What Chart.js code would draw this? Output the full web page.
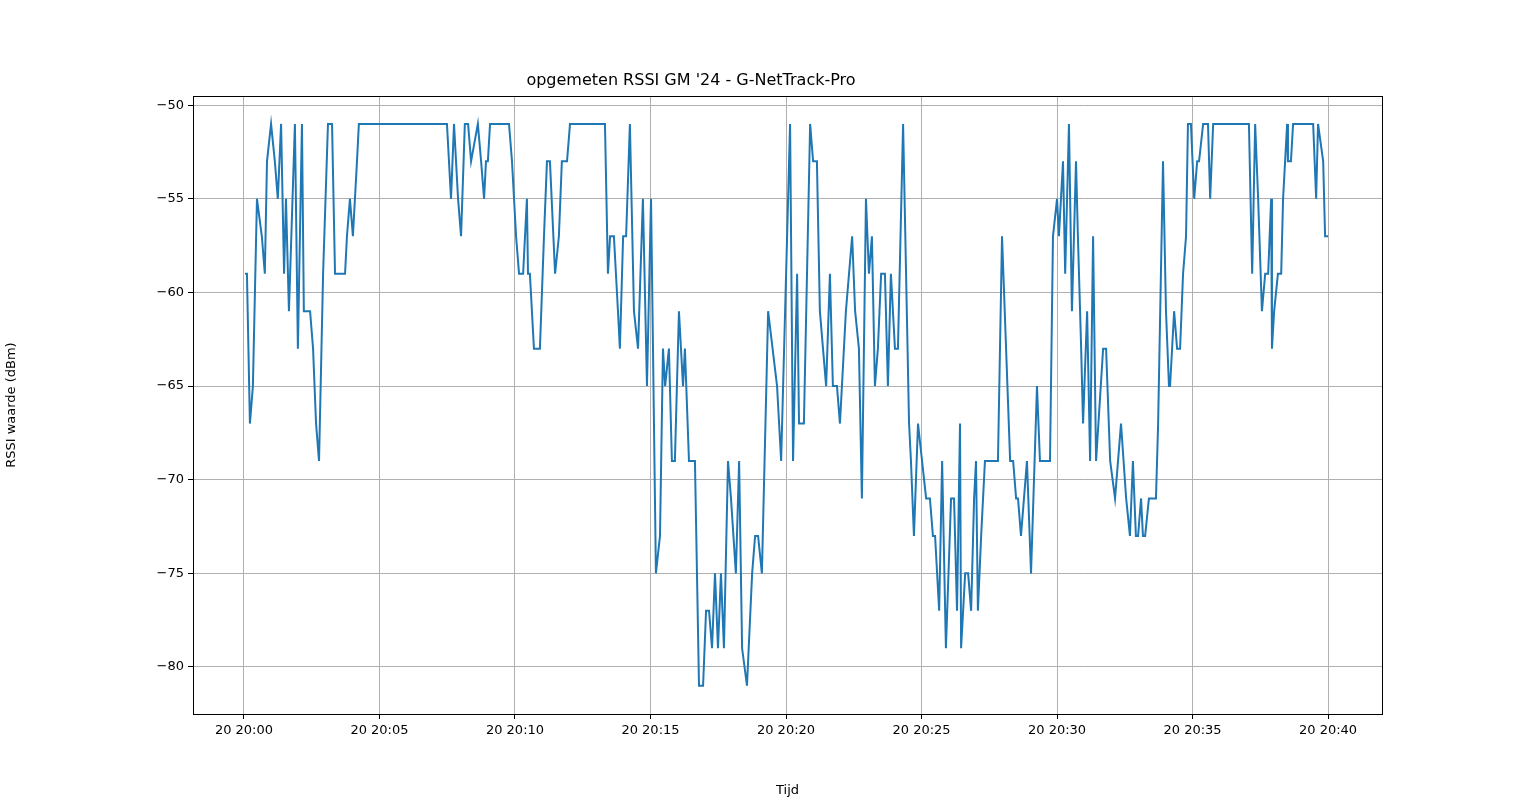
<!DOCTYPE html>
<html>
<head>
<meta charset="utf-8">
<script src="https://cdn.jsdelivr.net/npm/chart.js@4"></script>
<style>
  html, body { margin: 0; padding: 0; background: #fff; }
  #wrap { width: 1536px; height: 802px; }
</style>
</head>
<body>
<div id="wrap"><canvas id="rssiChart" width="1536" height="802"></canvas></div>
<script>
// minuten na 11:20
const minutes = [
  0.04,0.11,0.22,0.33,0.48,0.66,0.77,0.85,1.0,1.14,1.25,1.37,1.48,1.55,1.66,1.88,1.99,2.14,2.21,2.44,
  2.55,2.66,2.77,2.92,3.1,3.25,3.36,3.73,3.8,3.91,4.02,4.17,4.24,7.49,7.64,7.75,7.9,8.01,8.15,8.27,
  8.38,8.63,8.75,8.86,8.93,9.0,9.08,9.78,9.89,10.04,10.15,10.3,10.44,10.48,10.55,10.7,10.92,11.07,11.18,11.29,
  11.48,11.62,11.73,11.92,12.03,13.32,13.43,13.51,13.65,13.8,13.87,13.99,14.1,14.24,14.39,14.54,14.72,14.87,15.02,15.2,
  15.35,15.46,15.54,15.68,15.79,15.9,16.05,16.2,16.27,16.42,16.64,16.79,16.94,17.05,17.16,17.27,17.38,17.49,17.6,17.71,
  17.86,17.97,18.15,18.27,18.38,18.56,18.75,18.86,18.97,19.11,19.34,19.67,19.82,20.15,20.26,20.41,20.48,20.66,20.89,21.0,
  21.14,21.25,21.48,21.62,21.73,21.88,21.99,22.21,22.44,22.55,22.69,22.8,22.95,23.06,23.17,23.28,23.39,23.51,23.65,23.76,
  23.87,24.02,24.13,24.32,24.54,24.61,24.72,24.87,25.02,25.17,25.31,25.42,25.5,25.65,25.76,25.9,26.09,26.2,26.31,26.42,
  26.46,26.61,26.72,26.83,26.94,27.01,27.08,27.2,27.34,27.82,27.97,28.27,28.38,28.49,28.56,28.67,28.89,29.04,29.26,29.37,
  29.74,29.85,30.0,30.07,30.22,30.3,30.44,30.55,30.7,30.77,30.89,30.96,31.11,31.22,31.33,31.44,31.7,31.81,31.96,32.14,
  32.36,32.55,32.69,32.8,32.91,32.99,33.1,33.17,33.25,33.39,33.65,33.73,33.91,34.02,34.13,34.17,34.32,34.43,34.54,34.65,
  34.76,34.83,34.94,35.06,35.17,35.24,35.39,35.57,35.65,35.76,37.08,37.2,37.31,37.42,37.56,37.68,37.79,37.9,37.93,38.01,
  38.15,38.27,38.34,38.49,38.52,38.63,38.71,39.45,39.56,39.63,39.82,39.89,40.0
];
const rssi = [
  -59,-59,-67,-65,-55,-57,-59,-53,-51,-53,-55,-51,-59,-55,-61,-51,-63,-51,-61,-61,
  -63,-67,-69,-59,-51,-51,-59,-59,-57,-55,-57,-53,-51,-51,-55,-51,-55,-57,-51,-51,
  -53,-51,-53,-55,-53,-53,-51,-51,-53,-57,-59,-59,-55,-59,-59,-63,-63,-57,-53,-53,
  -59,-57,-53,-53,-51,-51,-59,-57,-57,-61,-63,-57,-57,-51,-61,-63,-55,-65,-55,-75,
  -73,-63,-65,-63,-69,-69,-61,-65,-63,-69,-69,-81,-81,-77,-77,-79,-75,-79,-75,-79,
  -69,-71,-75,-69,-79,-81,-75,-73,-73,-75,-61,-65,-69,-51,-69,-59,-67,-67,-51,-53,
  -53,-61,-65,-59,-65,-65,-67,-61,-57,-61,-63,-71,-55,-59,-57,-65,-63,-59,-59,-65,
  -59,-63,-63,-51,-67,-69,-73,-67,-69,-71,-71,-73,-73,-77,-69,-79,-71,-71,-77,-67,
  -79,-75,-75,-77,-71,-69,-77,-73,-69,-69,-57,-69,-69,-71,-71,-73,-69,-75,-65,-69,
  -69,-57,-55,-57,-53,-59,-51,-61,-53,-57,-63,-67,-61,-69,-57,-69,-63,-63,-69,-71,
  -67,-71,-73,-69,-73,-73,-71,-73,-73,-71,-71,-67,-53,-61,-65,-65,-61,-63,-63,-59,
  -57,-51,-51,-55,-53,-53,-51,-51,-55,-51,-51,-59,-51,-55,-61,-59,-59,-55,-63,-61,
  -59,-59,-55,-51,-53,-53,-51,-51,-55,-51,-53,-57,-57
];
const xTicks = [0, 5, 10, 15, 20, 25, 30, 35, 40];
const yTicks = [-80, -75, -70, -65, -60, -55, -50];

const fmtTime = (m) => {
    const total = 20 * 60 + m;
    const h = Math.floor(total / 60);
    const mm = total % 60;
    return '20 ' + h + ':' + String(mm).padStart(2, '0');
};

// kader rond het plotgebied
const frame = {
    id: 'frame',
    afterDraw(chart) {
        const a = chart.chartArea, c = chart.ctx;
        c.save();
        c.strokeStyle = '#000';
        c.lineWidth = 1;
        c.strokeRect(Math.round(a.left) + 0.5, Math.round(a.top) + 0.5,
            Math.round(a.right - a.left), Math.round(a.bottom - a.top));
        c.restore();
    }
};

const font = { family: 'DejaVu Sans', size: 13 };

new Chart(document.getElementById('rssiChart'), {
    type: 'line',
    data: {
        datasets: [{
            data: minutes.map((m, i) => ({ x: m, y: rssi[i] })),
            borderColor: '#1f77b4',
            borderWidth: 2,
            pointRadius: 0,
            tension: 0,
            fill: false
        }]
    },
    options: {
        responsive: false,
        animation: false,
        layout: { padding: { left: 0, right: 154, top: 0, bottom: 0 } },
        plugins: {
            legend: { display: false },
            tooltip: { enabled: false },
            title: {
                display: true,
                text: "opgemeten RSSI GM '24 - G-NetTrack-Pro",
                color: '#000',
                font: { family: 'DejaVu Sans', size: 16, weight: 'normal' },
                padding: { top: 71, bottom: 6 }
            }
        },
        scales: {
            x: {
                type: 'linear',
                min: -1.88,
                max: 41.99,
                afterBuildTicks: (s) => { s.ticks = xTicks.map(v => ({ value: v })); },
                afterFit: (s) => { s.height = 88; },
                ticks: { color: '#000', font, maxRotation: 0, padding: 4, callback: (v) => fmtTime(v) },
                grid: { color: '#b0b0b0', tickColor: '#000', tickLength: 5 },
                border: { display: false },
                title: { display: true, text: 'Tijd', color: '#000', font, padding: { top: 2 } }
            },
            y: {
                min: -82.51,
                max: -49.52,
                afterBuildTicks: (s) => { s.ticks = yTicks.map(v => ({ value: v })); },
                afterFit: (s) => { s.width = 193; },
                ticks: { color: '#000', font, padding: 4, callback: (v) => String(v).replace('-', '\u2212') },
                grid: { color: '#b0b0b0', tickColor: '#000', tickLength: 5 },
                border: { display: false },
                title: { display: true, text: 'RSSI waarde (dBm)', color: '#000', font, padding: { bottom: 4 } }
            }
        }
    },
    plugins: [frame]
});
</script>
</body>
</html>
